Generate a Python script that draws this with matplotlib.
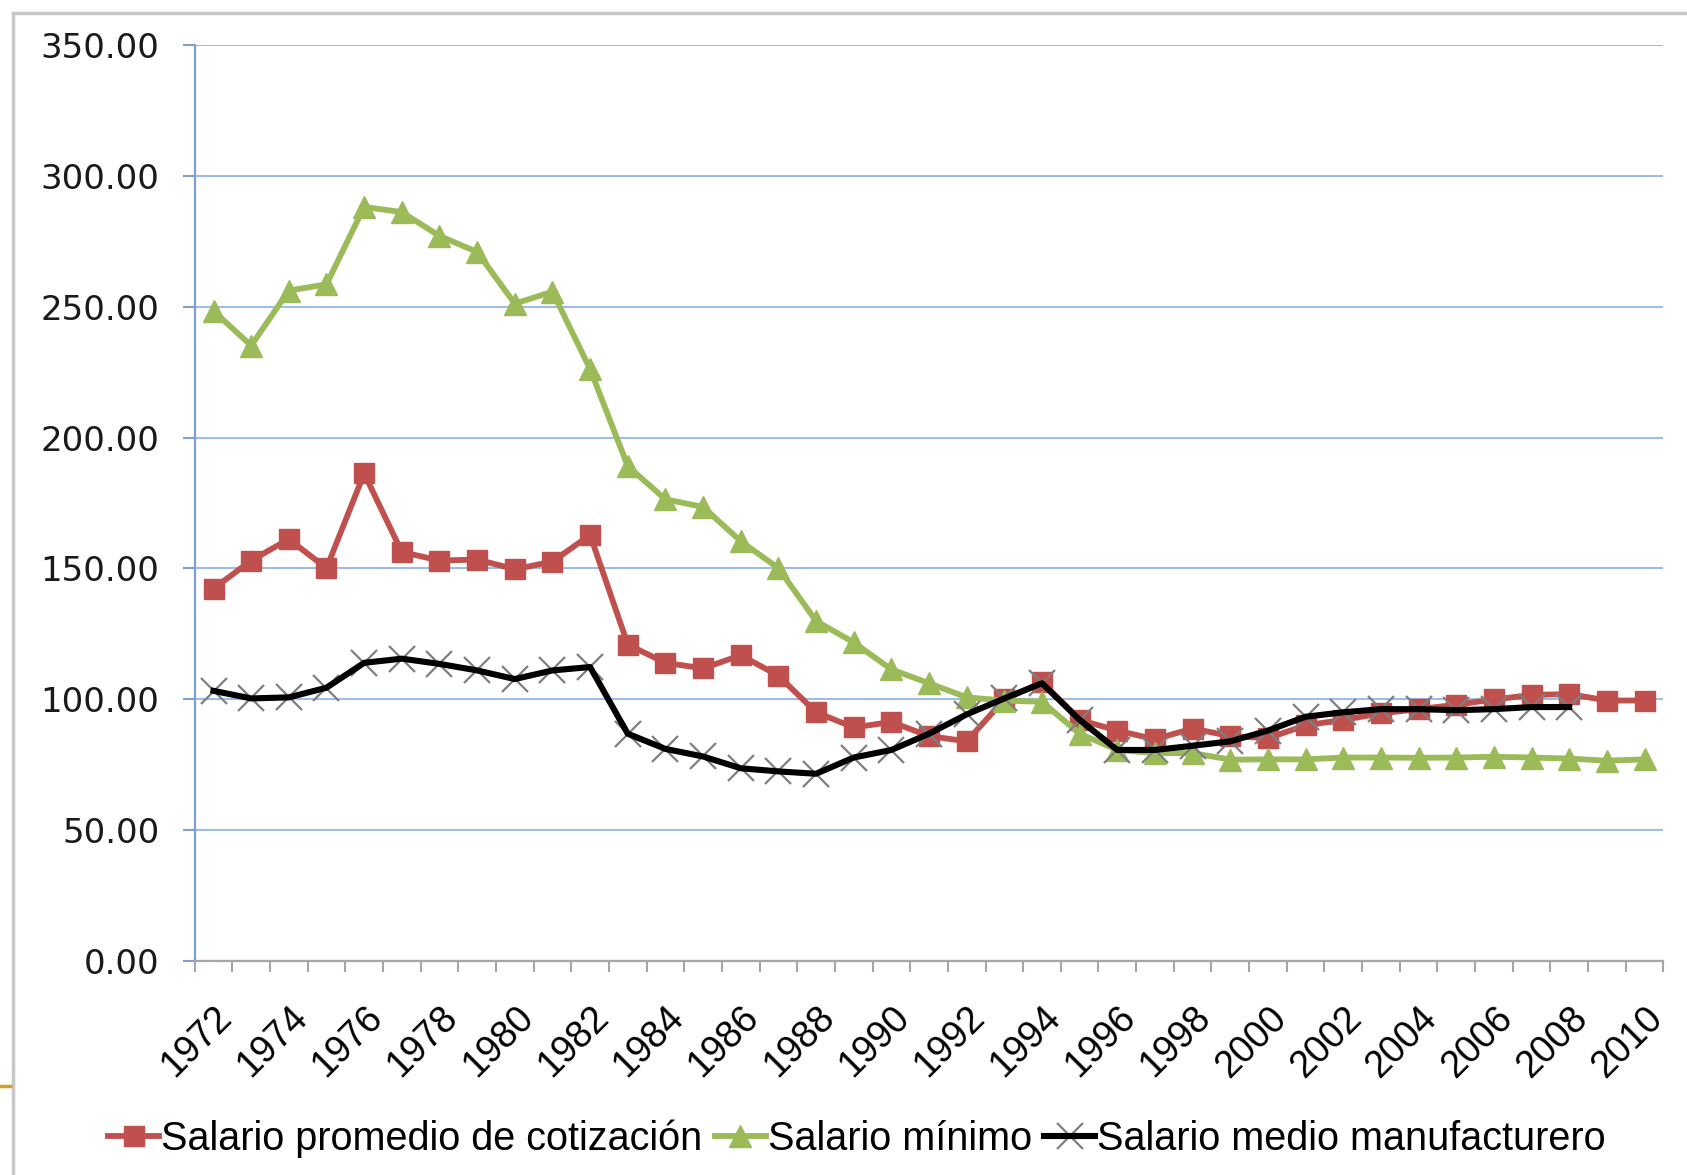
import matplotlib
matplotlib.use('Agg')
import matplotlib.pyplot as plt
import numpy as np
from matplotlib.lines import Line2D
from matplotlib.legend_handler import HandlerTuple
from matplotlib.ticker import FormatStrFormatter

years = list(range(1972, 2011))

promedio_cotizacion = [142.3, 153.0, 161.2, 150.1, 186.3, 156.3, 153.0, 153.4, 149.7, 152.6,
                       162.8, 120.9, 113.9, 111.8, 116.8, 109.0, 95.0, 89.2, 91.3, 85.9,
                       83.9, 99.9, 106.5, 92.1, 88.0, 84.7, 88.8, 85.9, 85.1, 90.0,
                       92.1, 94.6, 96.2, 97.9, 99.9, 101.6, 102.0, 99.5, 99.5]

salario_minimo = [248.4, 235.2, 256.2, 258.6, 288.2, 286.2, 277.1, 271.0, 251.2, 255.8,
                  226.2, 189.1, 176.4, 173.5, 160.4, 150.1, 129.9, 121.7, 111.4, 106.1,
                  100.7, 99.5, 99.0, 86.8, 80.6, 79.4, 79.4, 76.9, 77.0, 77.0,
                  77.7, 77.7, 77.6, 77.7, 78.0, 77.7, 77.3, 76.5, 77.0]

# manufacturing series stops in 2008
medio_manufacturero = [103.2, 100.3, 100.7, 104.4, 113.9, 115.5, 113.5, 111.0, 107.7, 111.0,
                       112.3, 86.8, 81.0, 78.1, 73.6, 72.4, 71.5, 77.7, 80.6, 86.8,
                       94.2, 100.3, 106.1, 92.1, 80.6, 80.6, 82.2, 83.9, 88.0, 93.3,
                       95.0, 96.2, 96.2, 95.8, 96.2, 97.0, 97.0]

red = '#C0504D'
green = '#9BBB59'

fig = plt.figure(figsize=(16.87, 11.75), dpi=100)
ax = fig.add_axes([0.1154, 0.1823, 0.8706, 0.7792])

x = np.arange(len(years))
p1, = ax.plot(x, promedio_cotizacion, color=red, lw=4.2, marker='s', ms=15,
              zorder=3)
p2, = ax.plot(x, salario_minimo, color=green, lw=4.2, marker='^', ms=16,
              zorder=3)
xm = np.arange(len(medio_manufacturero))
p3m, = ax.plot(xm, medio_manufacturero, ls='none', marker='x', ms=19, mew=1.6,
               color='#7F7F7F', zorder=3)
p3, = ax.plot(xm, medio_manufacturero, color='black', lw=4.4, zorder=4)

ax.set_xlim(-0.5, len(years) - 0.5)
ax.set_ylim(0, 350)
ax.set_yticks(np.arange(0, 351, 50))
ax.yaxis.set_major_formatter(FormatStrFormatter('%.2f'))
ax.grid(axis='y', color='#9DBCE6', lw=1.5, zorder=0)

ax.set_xticks(x[::2])
ax.set_xticklabels([str(y) for y in years[::2]], rotation=45, ha='right',
                   va='top', rotation_mode='anchor', fontsize=27,
                   family='Liberation Sans')
ax.set_xticks(np.arange(-0.5, len(years)), minor=True)
ax.tick_params(axis='x', which='major', length=0, pad=28)
ax.tick_params(axis='x', which='minor', length=8, width=1.5, color='#A6A6A6')
ax.tick_params(axis='y', length=8.5, width=1.5, color='#7F9FCF', pad=17,
               labelsize=24.5, labelcolor='#1A1A1A')

for s in ['top', 'right']:
    ax.spines[s].set_visible(False)
ax.spines['left'].set_color('#7F9FCF')
ax.spines['left'].set_linewidth(1.6)
ax.spines['bottom'].set_color('#A6A6A6')
ax.spines['bottom'].set_linewidth(1.6)

ax.legend([p1, p2, (p3m, p3)],
          ['Salario promedio de cotización', 'Salario mínimo',
           'Salario medio manufacturero'],
          handler_map={tuple: HandlerTuple(ndivide=1)},
          loc='center', bbox_to_anchor=(0.508, 0.031),
          bbox_transform=fig.transFigure, ncol=3, frameon=False,
          prop={'family': 'Liberation Sans', 'size': 28.5},
          handlelength=1.3, handletextpad=0.05, columnspacing=0.3)

# outer frame of the original picture
W, H = 1687, 1175
fig.add_artist(Line2D([13 / W, 13 / W], [0, 1 - 13 / H], color='#C8C8C8',
                      lw=2.5, transform=fig.transFigure))
fig.add_artist(Line2D([13 / W, 1], [1 - 13 / H, 1 - 13 / H], color='#C8C8C8',
                      lw=2.5, transform=fig.transFigure))
fig.add_artist(Line2D([0, 10 / W], [1 - 1086 / H, 1 - 1086 / H],
                      color='#D4A020', lw=2.5, transform=fig.transFigure))

fig.savefig('out.png', dpi=100)
